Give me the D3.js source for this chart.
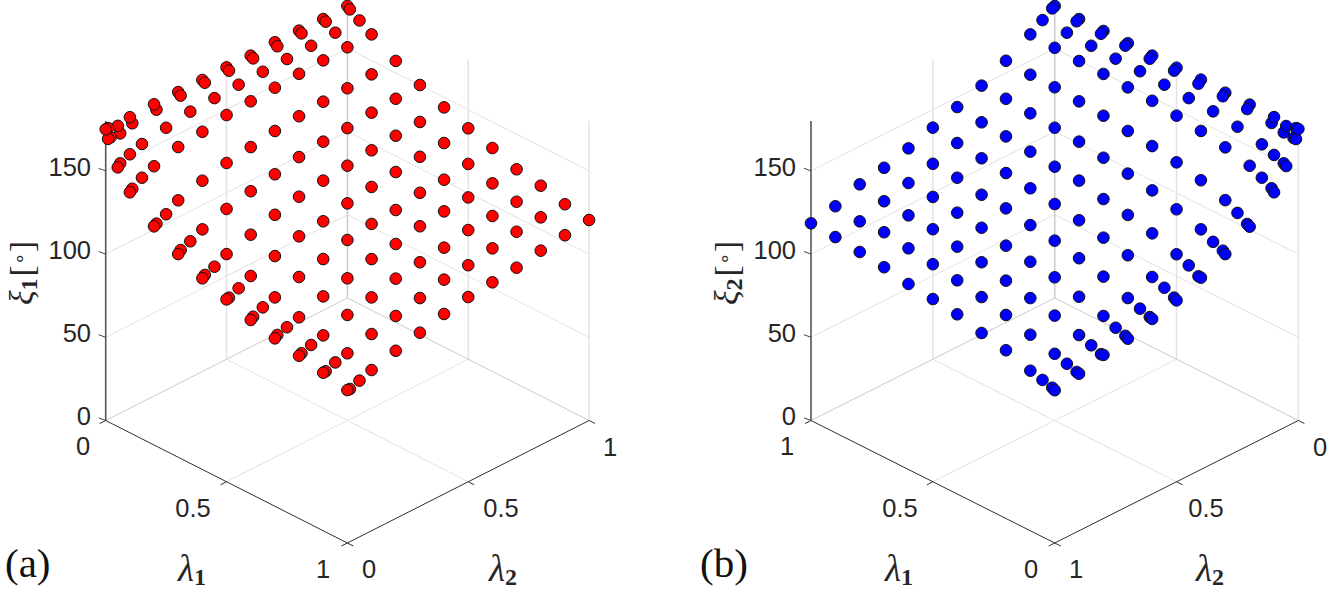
<!DOCTYPE html>
<html><head><meta charset="utf-8">
<script src="https://cdn.jsdelivr.net/npm/d3@7"></script>
<style>html,body{margin:0;padding:0;background:#fff}svg{display:block}</style>
</head><body><svg id="c" width="1329" height="591"></svg>
<script>
const lambdaValues=[0,.01,.05,.1,.2,.3,.4,.5,.6,.7,.8,.9,1];
const zTicks=[0,50,100,150];
const lambdaTicks=[0,0.5,1];
const zTop=180;
// rows: lambda1, columns: lambda2
const xi1=[
[175,175,173.4,174.9,175.3,175.3,175.2,175.4,175.1,175.8,175.4,175,175.5],
[170,170.2,169.6,172,172.8,173.9,174.3,174.2,174.2,174.1,174.5,174.2,174.2],
[155.8,157.5,160,162.5,164.9,167.2,168,168.7,169.1,169.4,170,170.5,170.5],
[144.5,145.9,149.6,152.8,157,158.8,161.5,162.4,163.2,164.2,164.9,165.4,165.8],
[131.4,132.3,135,139.7,144.1,147.4,149.6,151.9,153.4,154.8,155.5,156.5,157.2],
[122.1,123.8,126.1,129.6,134.5,137.8,140.6,143.6,145.5,146.3,148.2,149.2,150.1],
[114.9,116.2,118.2,122.1,126.4,131,134.5,136.8,138.4,140.3,141.7,142.6,144],
[109.6,109.9,112.6,116.3,120.9,125.4,127.1,130.5,133,134.6,136.4,137.3,138.8],
[104.6,105.8,108.5,110.8,115.7,119.1,123.2,125.5,126.5,129.5,130,132.1,134.3],
[100.9,102.2,103.9,106.2,111.4,114.9,119.1,120.8,124.1,125.7,126.7,127.8,128.9],
[97.8,98.6,100.6,102.7,107.6,110.8,114.7,117.2,118.6,121.8,122.9,124.1,126.4],
[95,95.1,97.5,99.3,103.5,107,110.4,114.1,115.4,118.2,120.8,122.1,122.6],
[91.9,91.8,93.9,96.6,100.8,104.3,108.2,111,112.5,113.9,116.8,118.7,120.5]];
const xi2=[
[175.2,169.9,156.6,144.5,131.2,122.1,115.3,109,105.2,100.7,98.3,94.4,91.8],
[175,169.8,157.5,146.2,132.1,123.4,115.4,109.9,105.6,101.7,98,94.7,92.6],
[173.3,170.2,159.6,149.6,135.8,125.8,119,112.9,107.7,103.6,100.4,96.7,94.3],
[175,172.2,162.3,153.1,139.8,129.6,122,115.7,110.4,107,102.9,99,96.2],
[175.1,173.2,165.5,156.8,144.4,134.3,127.2,121.4,115.9,111.2,107.2,103.1,101.1],
[174.9,173.5,167.4,159.3,147.8,138.3,130.9,124.6,119.6,115.5,110.4,107.6,104.1],
[175.4,173.7,168,161.1,150.2,141,133.1,127.7,122.8,117.5,113.5,111,108],
[175.2,174.2,168.7,162.7,151.9,143.2,136.8,130.1,124.8,119.8,117.2,113.7,109.8],
[175.1,174,169.4,163.4,153.7,145.5,137.8,132.2,127.5,123.2,119.2,116,111.5],
[175.2,174.5,169.6,164.1,155,146.5,139.5,134,128.3,124.9,122.3,118.2,114.2],
[175.2,174.3,170,164.5,156.1,147.8,141.3,135.5,131.2,127,123.3,120.5,116],
[175,174.4,170.5,165.1,156.3,149.2,142.4,137.3,132.2,128,124.4,119.7,117.6],
[175.5,174.8,170.7,165.8,157.3,149.7,144.2,139.2,134.1,129.8,127.2,121.4,118.5]];

const svg=d3.select('#c');
const SANS="'Liberation Sans',Arial,sans-serif", SERIF="'Liberation Serif','Times New Roman',serif";
const panels=[
 {x0:105.7,w:241.7,domL1:[0,1],domL2:[0,1],vals:xi1,fill:'#ff0000',name:'1',tag:'(a)',tagX:5,
  l1Lab:192,l2Lab:503,zLab:33,zTickX:91,
  l1Pos:[[83,0,446],[193,0.5,508],[323,1,569]],l2Pos:[[369,0,569],[501,0.5,508],[610,1,447]]},
 {x0:811,w:243.7,domL1:[1,0],domL2:[1,0],vals:xi2,fill:'#0000ff',name:'2',tag:'(b)',tagX:700,
  l1Lab:899,l2Lab:1210,zLab:738,zTickX:796,
  l1Pos:[[787,1,446],[900,0.5,508],[1031,0,569]],l2Pos:[[1076,1,569],[1206,0.5,508],[1320,0,447]]}
];
const Y0=420.5, DY=122.5;
panels.forEach(p=>{
 const g=svg.append('g');
 const sx1=d3.scaleLinear().domain(p.domL1).range([0,p.w]);
 const sx2=d3.scaleLinear().domain(p.domL2).range([0,p.w]);
 const sy1=d3.scaleLinear().domain(p.domL1).range([0,DY]);
 const sy2=d3.scaleLinear().domain(p.domL2).range([0,-DY]);
 const sz=d3.scaleLinear().domain([0,zTop]).range([0,-299.5]);
 const proj=(a,b,z)=>[p.x0+sx1(a)+sx2(b),Y0+sy1(a)+sy2(b)+sz(z)];
 const line=(A,B,col,w)=>g.append('line').attr('x1',A[0]).attr('y1',A[1]).attr('x2',B[0]).attr('y2',B[1]).attr('stroke',col).attr('stroke-width',w);
 const L1=p.domL1, L2=p.domL2;
 const GRID='#e3e3e3', EDGE='#c9c9c9';
 line(proj(0.5,L2[0],0),proj(0.5,L2[1],0),GRID,1);
 line(proj(L1[0],0.5,0),proj(L1[1],0.5,0),GRID,1);
 line(proj(L1[0],L2[0],0),proj(L1[0],L2[1],0),EDGE,1);
 line(proj(L1[0],L2[1],0),proj(L1[1],L2[1],0),EDGE,1);
 zTicks.filter(z=>z>0).forEach(z=>{
  line(proj(L1[0],L2[0],z),proj(L1[0],L2[1],z),GRID,1);
  line(proj(L1[0],L2[1],z),proj(L1[1],L2[1],z),GRID,1);
 });
 line(proj(L1[0],0.5,0),proj(L1[0],0.5,zTop),GRID,1.5);
 line(proj(0.5,L2[1],0),proj(0.5,L2[1],zTop),GRID,1.5);
 line(proj(L1[1],L2[1],0),proj(L1[1],L2[1],zTop),GRID,1.5);
 line(proj(L1[0],L2[1],0),proj(L1[0],L2[1],zTop),EDGE,1.5);
 const AX='#303030';
 line(proj(L1[0],L2[0],0),proj(L1[1],L2[0],0),AX,1);
 line(proj(L1[1],L2[0],0),proj(L1[1],L2[1],0),AX,1);
 line(proj(L1[0],L2[0],0),proj(L1[0],L2[0],zTop),'#555',1.6);
 zTicks.forEach(z=>{const A=proj(L1[0],L2[0],z);line(A,[A[0]-7,A[1]-2.6],'#444',1);});
 lambdaTicks.forEach(t=>{
  const a=proj(t,L2[0],0);line(a,[a[0]-6,a[1]+3],AX,1);
  const b=proj(L1[1],t,0);line(b,[b[0]+6,b[1]+3],AX,1);
 });
 const tick=(x,y,s,anc)=>g.append('text').attr('x',x).attr('y',y).attr('text-anchor',anc||'middle')
   .attr('font-family',SANS).attr('font-size',25.5).attr('fill','#262626').text(s);
 zTicks.forEach(z=>{const y=proj(L1[0],L2[0],z)[1];
   tick(p.zTickX,(z===0?y-5:y-4)+9,String(z),'end');});
 p.l1Pos.concat(p.l2Pos).forEach(d=>tick(d[0],d[2]+9,String(d[1])));
 const lam=(x,n)=>{const t=g.append('text').attr('x',x).attr('y',581).attr('text-anchor','middle')
   .attr('font-family',SERIF).attr('font-size',37).attr('fill','#262626');
   t.append('tspan').attr('font-style','italic').text('λ');
   t.append('tspan').attr('font-weight','bold').attr('font-size',24).attr('dy',4).text(n);};
 lam(p.l1Lab,'1');lam(p.l2Lab,'2');
 const zt=g.append('text').attr('transform',`translate(${p.zLab},273) rotate(-90)`).attr('text-anchor','middle')
   .attr('font-family',SERIF).attr('font-size',34).attr('fill','#262626');
 zt.append('tspan').attr('font-style','italic').text('ξ');
 zt.append('tspan').attr('font-weight','bold').attr('font-size',24).attr('dy',4).text(p.name);
 zt.append('tspan').attr('dy',-4).attr('dx',2).text('[');
 zt.append('tspan').attr('font-size',20).attr('dy',-6).text('∘');
 zt.append('tspan').attr('dy',6).text(']');
 g.append('text').attr('x',p.tagX).attr('y',577).attr('font-family',SERIF).attr('font-size',41).attr('fill','#111').text(p.tag);
 const idx=d3.range(lambdaValues.length);
 const base=p.name==='1'
   ? idx.flatMap(i=>idx.slice().reverse().map(j=>[i,j]))
   : idx.slice().reverse().flatMap(i=>idx.map(j=>[i,j]));
 // points on the ridge near the (0,0) corner lie on top of their neighbours
 const isLast=p.name==='1'
   ? d=>d[0]===0&&lambdaValues[d[1]]<=0.2
   : d=>d[1]===0&&lambdaValues[d[0]]<=0.1;
 const order=base.filter(d=>!isLast(d)).concat(base.filter(isLast));
 g.append('g').selectAll('circle').data(order).join('circle')
  .attr('cx',d=>proj(lambdaValues[d[0]],lambdaValues[d[1]],p.vals[d[0]][d[1]])[0])
  .attr('cy',d=>proj(lambdaValues[d[0]],lambdaValues[d[1]],p.vals[d[0]][d[1]])[1])
  .attr('r',5.8).attr('fill',p.fill).attr('stroke','#111').attr('stroke-width',1);
});
</script></body></html>
